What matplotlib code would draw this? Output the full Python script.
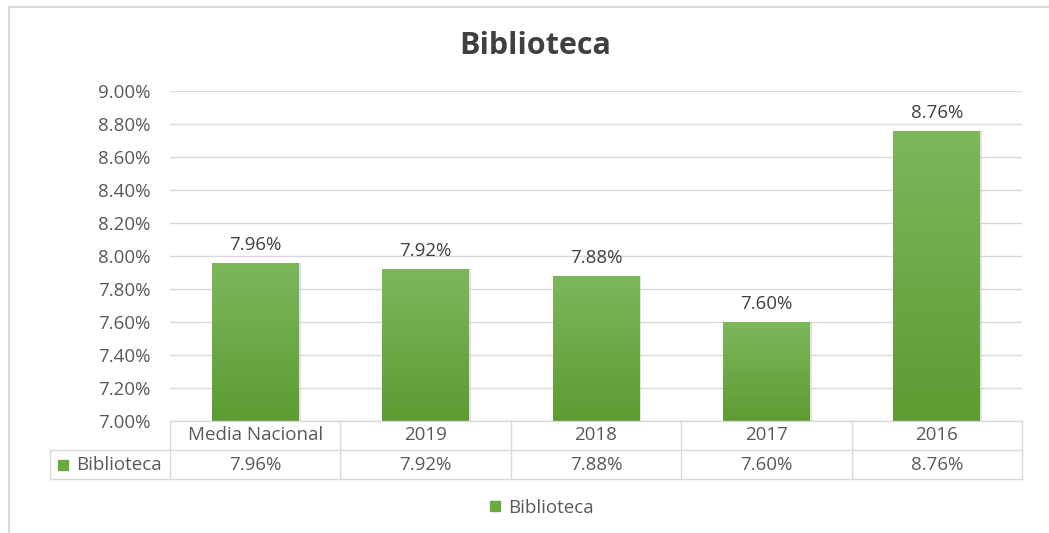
import numpy as np
import matplotlib
matplotlib.use("Agg")
import matplotlib.pyplot as plt
from matplotlib.colors import LinearSegmentedColormap
from matplotlib.lines import Line2D

# datos
categorias = ["Media Nacional", "2019", "2018", "2017", "2016"]
valores = [7.96, 7.92, 7.88, 7.60, 8.76]
serie = "Biblioteca"
y_ticks = [7.00, 7.20, 7.40, 7.60, 7.80, 8.00, 8.20, 8.40, 8.60, 8.80, 9.00]

W, H = 1049, 533
TXT = "#595959"
GRID = "#d9d9d9"
VERDE = "#6aab3f"
FS = 13.5
plt.rcParams["font.family"] = ["Open Sans", "DejaVu Sans"]

fig = plt.figure(figsize=(W / 100, H / 100), dpi=100, facecolor="white")


def px(x0, y0, x1, y1):
    # caja en pixeles (origen arriba-izquierda) -> rect de figura
    return [x0 / W, 1 - y1 / H, (x1 - x0) / W, (y1 - y0) / H]


# borde del área del gráfico
fig.add_artist(plt.Rectangle((9 / W, -0.05), 1.2, 1 - 7 / H + 0.05,
                             transform=fig.transFigure, fill=False,
                             edgecolor=GRID, lw=1.5))

ax = fig.add_axes(px(170, 91, 1022, 421))
ax.set_xlim(-0.5, len(categorias) - 0.5)
ax.set_ylim(7.0, 9.0)
ax.set_yticks(y_ticks)
ax.set_yticklabels([f"{v:.2f}%" for v in y_ticks], color=TXT, fontsize=FS)
ax.tick_params(axis="y", length=0, pad=14)
ax.set_xticks([])
for s in ax.spines.values():
    s.set_visible(False)
ax.grid(axis="y", color=GRID, lw=1)
ax.set_axisbelow(True)

x = np.arange(len(categorias))
bars = ax.bar(x, np.array(valores) - 7.0, bottom=7.0, width=0.51,
              color=VERDE, zorder=2)

# degradado vertical (claro arriba, oscuro abajo)
cmap = LinearSegmentedColormap.from_list("g", ["#5c9c32", "#7db75c"])
grad = np.linspace(0, 1, 256).reshape(-1, 1)
for b in bars:
    x0, w = b.get_x(), b.get_width()
    y0, h = b.get_y(), b.get_height()
    # sombra suave
    ax.bar(x0 + w / 2 + 0.012, h, bottom=y0, width=w, color="#cfcfcf",
           zorder=1.5, alpha=0.6)
    im = ax.imshow(grad, extent=[x0, x0 + w, y0, y0 + h], origin="lower",
                   cmap=cmap, aspect="auto", zorder=2.5)
    im.set_clip_path(b)

for xi, v in zip(x, valores):
    ax.text(xi, v + 0.055, f"{v:.2f}%", ha="center", va="bottom",
            color="#404040", fontsize=FS)

# título
fig.text(535 / W, 1 - 46 / H, serie, ha="center", va="center",
         fontsize=22, fontweight="bold", color="#404040")

# tabla de datos
tx = fig.add_axes(px(170, 421, 1022, 479))
tx.set_xlim(-0.5, len(categorias) - 0.5)
tx.set_ylim(0, 2)
tx.axis("off")
left = -0.5 - 120 / 170.4
kw = dict(color=GRID, lw=1, clip_on=False)
tx.plot([-0.5, 4.5], [2, 2], **kw)
tx.plot([left, 4.5], [1, 1], **kw)
tx.plot([left, 4.5], [0, 0], **kw)
tx.plot([left, left], [0, 1], **kw)
for i in range(len(categorias) + 1):
    tx.plot([i - 0.5, i - 0.5], [0, 2], **kw)
for xi, c, v in zip(x, categorias, valores):
    tx.text(xi, 1.5, c, ha="center", va="center", color=TXT, fontsize=FS)
    tx.text(xi, 0.5, f"{v:.2f}%", ha="center", va="center", color=TXT,
            fontsize=FS)
tx.plot([left + 0.075], [0.5], marker="s", ms=7, color=VERDE, clip_on=False)
tx.text(left + 0.155, 0.5, serie, ha="left", va="center", color=TXT,
        fontsize=FS)

# leyenda
h = Line2D([], [], marker="s", ms=7, color=VERDE, lw=0)
fig.legend([h], [serie], loc="center", bbox_to_anchor=(540 / W, 1 - 508 / H),
           frameon=False, fontsize=FS, handletextpad=0.2,
           labelcolor=TXT, handlelength=1)

fig.savefig("out.png", dpi=100, facecolor="white")
